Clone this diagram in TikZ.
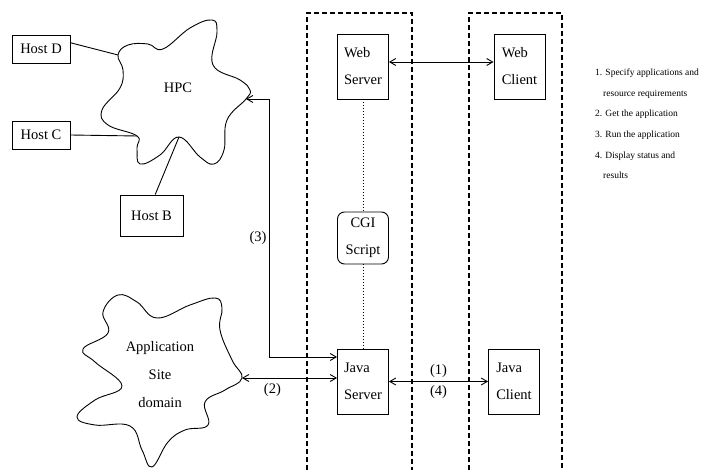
\documentclass[tikz,border=0pt]{standalone}
\usepackage{fontspec}
\setmainfont{Liberation Serif}
\usetikzlibrary{arrows.meta, calc, positioning}
\tikzset{
    hostbox/.style={draw, line width=0.9pt, minimum width=58pt, minimum height=28pt, inner sep=0pt, font=\fontsize{14.5}{17}\selectfont},
    unitbox/.style={draw, line width=0.9pt, minimum width=51pt, minimum height=65pt, inner sep=0pt, align=left, font=\fontsize{14.5}{27}\selectfont},
    scriptbox/.style={unitbox, rounded corners=7pt, align=center, minimum height=52pt},
    link/.style={line width=0.9pt, {Straight Barb[length=6pt,width=7pt]}-{Straight Barb[length=6pt,width=7pt]}},
    plain/.style={line width=0.9pt},
    dots/.style={dotted, line width=1pt},
    tier/.style={line width=1.3pt, dash pattern=on 5pt off 3pt},
    lbl/.style={font=\fontsize{14.5}{28}\selectfont, inner sep=2pt},
    note/.style={anchor=base west, inner sep=0pt, font=\fontsize{9.5}{11}\selectfont},
}
\begin{document}
\begin{tikzpicture}[x=1pt, y=-1pt]
    \useasboundingbox (0,0) rectangle (702,470);
    % tiers
    \draw[tier] (307,470) -- (307,13) -- (412,13) -- (412,470);
    \draw[tier] (469,470) -- (469,13) -- (562,13) -- (562,470);
    % HPC cloud
    \draw[plain] plot[smooth cycle, tension=0.7] coordinates {
        (118,55) (128,45) (148,44) (163,49) (190,28) (212,20) (217,32) (213,65)
        (240,80) (250,90) (246,99) (227,120) (224,150) (214,164) (200,157)
        (179,137) (160,155) (140,164) (137,148) (137,136) (108,125) (102,110)
        (120,88) (123,70)};
    \node[lbl] (hpc) at (178,88) {HPC};
    \coordinate (hpc-d) at (118,55);
    \coordinate (hpc-c) at (137,136);
    \coordinate (hpc-b) at (179,137);
    \coordinate (hpc-e) at (246,99);
    % application site cloud
    \draw[plain] plot[smooth cycle, tension=0.7] coordinates {
        (103,312) (118,295) (137,302) (157,318) (190,305) (215,298) (222,308)
        (220,330) (232,360) (242,378) (225,390) (205,402) (208,425) (185,430)
        (168,442) (152,467) (142,450) (130,426) (95,425) (77,417) (95,400)
        (122,386) (95,362) (83,349) (108,333)};
    \node[lbl, align=center] (app) at (160,375) {Application\\Site\\domain};
    \coordinate (app-e) at (242,378);
    % hosts
    \node[hostbox] (hostD) at (41,49) {Host D};
    \node[hostbox] (hostC) at (41,135) {Host C};
    \node[hostbox, minimum width=63pt, minimum height=41pt] (hostB) at (151.5,215.5) {Host B};
    \draw[plain] (hostD.12) -- (hpc-d);
    \draw[plain] (hostC.east) -- (hpc-c);
    \draw[plain] (hostB.80) -- (hpc-b);
    % servers and clients
    \node[unitbox] (websrv) at (363,66.5) {Web\\Server};
    \node[unitbox] (webcli) at (519.5,66.5) {Web\\Client};
    \node[scriptbox] (cgi) at (363,238) {CGI\\Script};
    \node[unitbox] (javasrv) at (363,381.5) {Java\\Server};
    \node[unitbox] (javacli) at (514,381.5) {Java\\Client};
    \coordinate (javasrv-a) at ($(javasrv.west)+(0,-24.5)$);
    \draw[link] (websrv.east |- 0,62) -- (webcli.west |- 0,62);
    \draw[dots] (websrv) -- (cgi);
    \draw[dots] (cgi) -- (javasrv);
    \draw[link] (hpc-e) -- ++(23,0) |- node[pos=0.27, left, lbl] {(3)} (javasrv-a);
    \draw[link] (app-e) -- node[pos=0.32, below=3pt, lbl] {(2)} (app-e -| javasrv.west);
    \draw[link] (javasrv) -- (javacli)
        node[midway, above=1pt, lbl] {(1)}
        node[midway, below=1pt, lbl] {(4)};
    % legend
    \node[note] (note1) at (595,76) {1. Specify applications and};
    \node[note] (note2) at (603,97) {resource requirements};
    \node[note] (note3) at (595,117) {2. Get the application};
    \node[note] (note4) at (595,138) {3. Run the application};
    \node[note] (note5) at (595,159) {4. Display status and};
    \node[note] (note6) at (603,179) {results};
\end{tikzpicture}
\end{document}
